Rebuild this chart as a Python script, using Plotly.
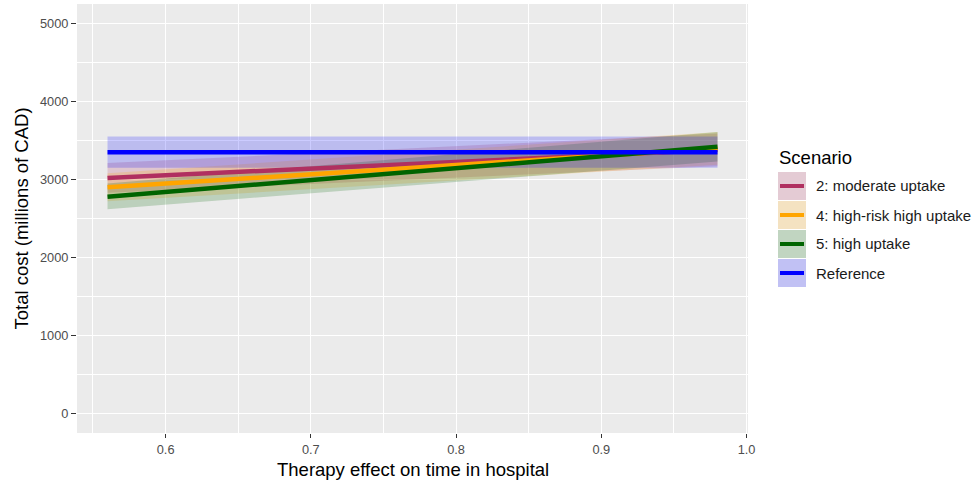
import plotly.graph_objects as go

# ---- data ----
x_vals = [0.56, 0.98]
scenarios = ["2: moderate uptake", "4: high-risk high uptake", "5: high uptake", "Reference"]
mean_moderate = [3020, 3380]
lo_moderate = [2830, 3170]
hi_moderate = [3210, 3590]
mean_highrisk = [2900, 3400]
lo_highrisk = [2720, 3190]
hi_highrisk = [3080, 3610]
mean_high = [2780, 3420]
lo_high = [2620, 3230]
hi_high = [2950, 3610]
mean_ref = [3350, 3350]
lo_ref = [3150, 3150]
hi_ref = [3550, 3550]
y_ticks = [0, 1000, 2000, 3000, 4000, 5000]
x_ticks = [0.6, 0.7, 0.8, 0.9, 1.0]
x_tick_labels = ["0.6", "0.7", "0.8", "0.9", "1.0"]

line_colors = ["#B03060", "#FFA500", "#006400", "#0000FF"]
fill_colors = ["rgba(176,48,96,0.2)", "rgba(255,165,0,0.2)", "rgba(0,100,0,0.2)", "rgba(0,0,255,0.2)"]

means = [mean_moderate, mean_highrisk, mean_high, mean_ref]
los = [lo_moderate, lo_highrisk, lo_high, lo_ref]
his = [hi_moderate, hi_highrisk, hi_high, hi_ref]

FONT = "Liberation Sans, Arial, sans-serif"

fig = go.Figure()
for name, lo, hi, fc in zip(scenarios, los, his, fill_colors):
    fig.add_trace(go.Scatter(
        x=x_vals + x_vals[::-1], y=hi + lo[::-1], fill="toself",
        fillcolor=fc, line=dict(width=0), mode="lines",
        showlegend=False, hoverinfo="skip"))
for name, m, lc in zip(scenarios, means, line_colors):
    fig.add_trace(go.Scatter(
        x=x_vals, y=m, mode="lines", name=name,
        line=dict(color=lc, width=4.5), showlegend=False))

# plot area in pixels
L, R, T, B = 77, 748, 4, 433
W, H = R - L, B - T

def px(xp):
    return (xp - L) / W

def py(yp):
    return (B - yp) / H

shapes = []
annotations = []
annotations.append(dict(text="Scenario", x=px(777), y=py(157), xref="paper", yref="paper",
                        xanchor="left", yanchor="middle", showarrow=False,
                        font=dict(family=FONT, size=18.5, color="#000000")))
key_top = 172
key_h = 29
for i, (name, lc, fc) in enumerate(zip(scenarios, line_colors, fill_colors)):
    y0 = key_top + i * key_h
    y1 = y0 + key_h - 1
    shapes.append(dict(type="rect", xref="paper", yref="paper",
                       x0=px(778), x1=px(806), y0=py(y1), y1=py(y0),
                       fillcolor="#F2F2F2", line=dict(width=0), layer="above"))
    shapes.append(dict(type="rect", xref="paper", yref="paper",
                       x0=px(778), x1=px(806), y0=py(y1), y1=py(y0),
                       fillcolor=fc, line=dict(width=0), layer="above"))
    ym = (y0 + y1) / 2
    shapes.append(dict(type="line", xref="paper", yref="paper",
                       x0=px(780), x1=px(804), y0=py(ym), y1=py(ym),
                       line=dict(color=lc, width=4), layer="above"))
    annotations.append(dict(text=name, x=px(814), y=py(ym), xref="paper", yref="paper",
                            xanchor="left", yanchor="middle", showarrow=False,
                            font=dict(family=FONT, size=15, color="#1A1A1A")))

# axis titles
annotations.append(dict(text="Therapy effect on time in hospital", x=0.5, y=py(469),
                        xref="paper", yref="paper", xanchor="center", yanchor="middle",
                        showarrow=False, font=dict(family=FONT, size=18.5, color="#000000")))
annotations.append(dict(text="Total cost (millions of CAD)", x=px(21), y=0.5, textangle=-90,
                        xref="paper", yref="paper", xanchor="center", yanchor="middle",
                        showarrow=False, font=dict(family=FONT, size=18.5, color="#000000")))

fig.update_layout(
    width=972, height=480,
    margin=dict(l=L, r=972 - R, t=T, b=480 - B),
    paper_bgcolor="white", plot_bgcolor="#EBEBEB",
    font=dict(family=FONT),
    showlegend=False,
    shapes=shapes, annotations=annotations,
    xaxis=dict(
        range=[0.539, 1.001], tickvals=x_ticks, ticktext=x_tick_labels,
        showgrid=True, gridcolor="white", gridwidth=1.2, zeroline=False,
        ticks="outside", ticklen=4, tickcolor="#333333", tickwidth=1,
        tickfont=dict(family=FONT, size=12.8, color="#4D4D4D"),
        ticklabelstandoff=1,
        automargin=False,
        minor=dict(tickvals=[0.55, 0.65, 0.75, 0.85, 0.95], showgrid=True,
                   gridcolor="white", gridwidth=0.6, ticks=""),
        showline=False,
    ),
    yaxis=dict(
        range=[-250, 5250], tickvals=y_ticks,
        showgrid=True, gridcolor="white", gridwidth=1.2, zeroline=False,
        ticks="outside", ticklen=5, tickcolor="#333333", tickwidth=1,
        tickfont=dict(family=FONT, size=12.8, color="#4D4D4D"),
        automargin=False,
        minor=dict(tickvals=[500, 1500, 2500, 3500, 4500], showgrid=True,
                   gridcolor="white", gridwidth=0.6, ticks=""),
        showline=False,
    ),
)

fig.write_html("out.html", config={"displayModeBar": False},
               post_script="document.body.style.margin='0';")
